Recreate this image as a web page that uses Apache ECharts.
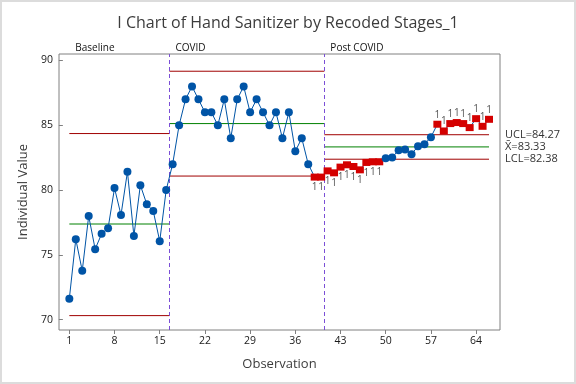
<!DOCTYPE html>
<html><head><meta charset="utf-8">
<script src="https://cdn.jsdelivr.net/npm/echarts@6/dist/echarts.min.js"></script>
<style>html,body{margin:0;padding:0;background:#fff}#c{width:576px;height:384px}</style>
</head><body><div id="c"></div>
<script>
// ---- data ----
const stageNames = ['Baseline', 'COVID', 'Post COVID'];
const baseline = [71.62, 76.21, 73.77, 78.0, 75.44, 76.62, 77.05, 80.15, 78.08, 81.41, 76.46, 80.38, 78.9, 78.38, 76.05, 80.0];
const covid = [82, 85, 87, 88, 87, 86, 86, 85, 87, 84, 87, 88, 86, 87, 86, 85, 86, 84, 86, 83, 84, 82, 81, 81];
const postCovid = [81.48, 81.33, 81.77, 81.95, 81.82, 81.56, 82.13, 82.18, 82.18, 82.46, 82.52, 83.08, 83.13, 82.77, 83.38, 83.54, 84.08, 85.08, 84.56, 85.13, 85.21, 85.13, 84.82, 85.51, 84.92, 85.46];
const ucl = [84.36, 89.17, 84.27];
const cl = [77.38, 85.13, 83.33];
const lcl = [70.31, 81.08, 82.38];
const xTicks = [1, 8, 15, 22, 29, 36, 43, 50, 57, 64];
const yTicks = [70, 75, 80, 85, 90];

const stages = [baseline, covid, postCovid];
const BLUE = '#0054a6', RED = '#d40000', DRED = '#a00000', GREEN = '#008000', PURPLE = '#7b4fd6';
const FONT = 'Open Sans';

// build points and stage extents
const points = [];
const starts = [], ends = [];
let obs = 1;
stages.forEach((arr, s) => {
  const first = obs;
  arr.forEach(v => {
    const out = v > ucl[s] ? 'hi' : (v < lcl[s] ? 'lo' : null);
    const item = { value: [obs, v] };
    if (out) {
      item.symbol = 'rect';
      item.symbolSize = [8, 7];
      item.itemStyle = { color: RED };
      item.label = { show: true, formatter: '1', position: out === 'hi' ? 'top' : 'bottom',
        distance: out === 'hi' ? 1 : 2, color: '#555', fontSize: 10, fontFamily: FONT };
    }
    points.push(item);
    obs++;
  });
  starts.push(s === 0 ? first : first - 0.5);
  ends.push(s === stages.length - 1 ? obs - 1 : obs - 0.5);
});
const boundaries = starts.slice(1);

const limitSeries = [];
stages.forEach((_, s) => {
  [[ucl[s], DRED], [cl[s], GREEN], [lcl[s], DRED]].forEach(([v, col]) => {
    limitSeries.push({
      type: 'line', data: [[starts[s], v], [ends[s], v]], symbol: 'none', silent: true,
      lineStyle: { color: col, width: 1 }, z: 2, animation: false
    });
  });
});

const chart = echarts.init(document.getElementById('c'), null, { renderer: 'canvas' });
chart.setOption({
  animation: false,
  backgroundColor: '#ffffff',
  title: {
    text: 'I Chart of Hand Sanitizer by Recoded Stages_1', left: 'center', top: 10,
    textStyle: { fontFamily: FONT, fontSize: 16, fontWeight: 'normal', color: '#3c3c3c' }
  },
  grid: { left: 59, top: 54, width: 441, height: 276, show: true, borderColor: '#808080', borderWidth: 1, backgroundColor: 'transparent' },
  xAxis: {
    type: 'value', min: -0.6, max: 67.7,
    name: 'Observation', nameLocation: 'middle', nameGap: 28,
    nameTextStyle: { fontFamily: FONT, fontSize: 13, color: '#3c3c3c' },
    axisLine: { show: false },
    splitLine: { show: false },
    axisTick: { show: true, length: 4, lineStyle: { color: '#808080' }, customValues: xTicks },
    axisLabel: { fontFamily: FONT, fontSize: 10.5, color: '#1a1a1a', margin: 6, customValues: xTicks }
  },
  yAxis: {
    type: 'value', min: 69.2, max: 90.5,
    name: 'Individual Value', nameLocation: 'middle', nameGap: 29,
    nameTextStyle: { fontFamily: FONT, fontSize: 13, color: '#3c3c3c' },
    axisLine: { show: false },
    splitLine: { show: false },
    axisTick: { show: true, length: 4, lineStyle: { color: '#808080' }, customValues: yTicks },
    axisLabel: { fontFamily: FONT, fontSize: 10.5, color: '#1a1a1a', margin: 6, customValues: yTicks }
  },
  series: limitSeries.concat([{
    type: 'line', data: points, symbol: 'circle', symbolSize: 8, showSymbol: true, z: 5,
    itemStyle: { color: BLUE }, lineStyle: { color: BLUE, width: 1 },
    markLine: {
      silent: true, symbol: ['none', 'none'], label: { show: false },
      lineStyle: { color: PURPLE, type: [4, 3], width: 1, opacity: 1 },
      emphasis: { disabled: true },
      data: boundaries.map(b => ({ xAxis: b }))
    }
  }])
});

// text annotations positioned through the axes
const g = [];
g.push({ type: 'rect', shape: { x: 1, y: 1, width: 574, height: 382 }, style: { fill: 'none', stroke: '#dcdcdc', lineWidth: 2 }, silent: true });
stageNames.forEach((n, s) => {
  const p = chart.convertToPixel({ gridIndex: 0 }, [starts[s], 90]);
  g.push({ type: 'text', x: p[0] + 6, y: 48, style: { text: n, fontFamily: FONT, fontSize: 10, fill: '#111', verticalAlign: 'middle' } });
});
const last = stages.length - 1;
[['UCL=', ucl[last]], ['X\u0304=', cl[last]], ['LCL=', lcl[last]]].forEach(([t, v]) => {
  const p = chart.convertToPixel({ gridIndex: 0 }, [67.7, v]);
  g.push({ type: 'text', x: p[0] + 5, y: p[1], style: { text: t + v.toFixed(2), fontFamily: FONT, fontSize: 11, fill: '#333', verticalAlign: 'middle' } });
});
chart.setOption({ graphic: g });
</script>
</body></html>
